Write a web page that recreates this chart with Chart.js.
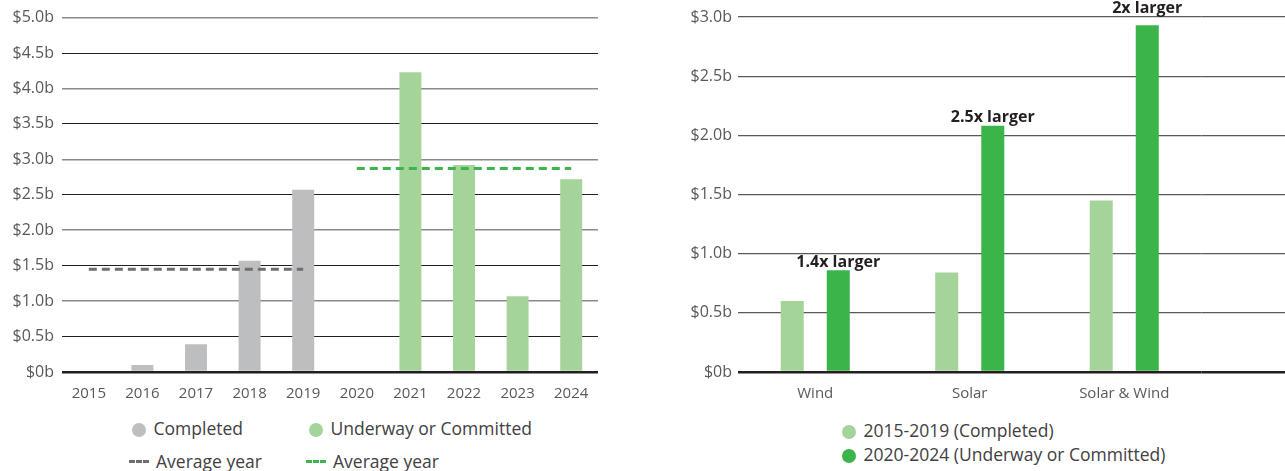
<!DOCTYPE html>
<html>
<head>
<meta charset="utf-8">
<script src="https://cdn.jsdelivr.net/npm/chart.js@4/dist/chart.umd.min.js"></script>
<style>
  body { margin: 0; background: #fff; width: 1285px; height: 471px; overflow: hidden; position: relative; font-family: "Open Sans", sans-serif; }
  #left { position: absolute; left: 0; top: 0; }
  #right { position: absolute; left: 640px; top: 0; }
  .lg { position: absolute; font-size: 17.5px; color: #414042; white-space: nowrap; line-height: 20px; }
  .dot { display: inline-block; width: 14px; height: 14px; border-radius: 50%; vertical-align: -2px; margin-right: 3px; }
  .dash { display: inline-block; width: 20px; height: 0; border-top: 3px dashed; vertical-align: 5px; margin-right: 7px; }
</style>
</head>
<body>
<canvas id="left" width="600" height="400"></canvas>
<canvas id="right" width="645" height="400"></canvas>

<div class="lg" style="left:132px; top:418px;"><span class="dot" style="background:#bcbec0"></span> Completed</div>
<div class="lg" style="left:309px; top:418px;"><span class="dot" style="background:#a5d49b"></span> Underway or Committed</div>
<div class="lg" style="left:129px; top:451px;"><span class="dash" style="border-color:#6d6e71"></span>Average year</div>
<div class="lg" style="left:306px; top:451px;"><span class="dash" style="border-color:#3cb64a"></span>Average year</div>

<div class="lg" style="left:842px; top:420px;"><span class="dot" style="background:#a5d49b"></span> 2015-2019 (Completed)</div>
<div class="lg" style="left:842px; top:444px;"><span class="dot" style="background:#3bb54a"></span> 2020-2024 (Underway or Committed)</div>

<script>
// left chart: investment per year
const years = ['2015', '2016', '2017', '2018', '2019', '2020', '2021', '2022', '2023', '2024'];
const completed = [0, 0.1, 0.39, 1.57, 2.57, null, null, null, null, null];
const underway = [null, null, null, null, null, 0, 4.23, 2.92, 1.07, 2.72];
const avgCompleted = [1.45, 1.45, 1.45, 1.45, 1.45, null, null, null, null, null];
const avgUnderway = [null, null, null, null, null, 2.87, 2.87, 2.87, 2.87, 2.87];

// right chart: by technology
const techs = ['Wind', 'Solar', 'Solar & Wind'];
const period1 = [0.6, 0.84, 1.45];
const period2 = [0.86, 2.08, 2.93];
const notes = ['1.4x larger', '2.5x larger', '2x larger'];

const yFont = { family: 'Open Sans', size: 16 };
const xFont = { family: 'Open Sans', size: 15 };
const tickColor = '#58595b';

function money(v) {
  return v === 0 ? '$0b' : '$' + v.toFixed(1) + 'b';
}

function gridColor(ctx) {
  const v = ctx.tick.value;
  if (v === 0) return '#231f20';
  return Number.isInteger(v) ? '#8a8a8c' : '#231f20';
}
function gridWidth(ctx) {
  const v = ctx.tick.value;
  if (v === 0) return 2.5;
  return Number.isInteger(v) ? 1.5 : 1;
}

new Chart(document.getElementById('left'), {
  type: 'bar',
  data: {
    labels: years,
    datasets: [
      { type: 'line', data: avgCompleted, borderColor: '#6d6e71', borderWidth: 3, borderDash: [8, 5], pointRadius: 0, order: 0 },
      { type: 'line', data: avgUnderway, borderColor: '#3cb64a', borderWidth: 3, borderDash: [8, 5], pointRadius: 0, order: 0 },
      { data: completed, backgroundColor: '#bcbec0', grouped: false, order: 1 },
      { data: underway, backgroundColor: '#a5d49b', grouped: false, order: 1 }
    ]
  },
  options: {
    responsive: false,
    animation: false,
    events: [],
    layout: { padding: { top: 16, right: 2 } },
    plugins: { legend: { display: false }, tooltip: { enabled: false } },
    datasets: { bar: { barPercentage: 0.41, categoryPercentage: 1 } },
    scales: {
      y: {
        min: 0, max: 5,
        ticks: { stepSize: 0.5, callback: money, font: yFont, color: tickColor, padding: 8 },
        grid: { color: gridColor, lineWidth: gridWidth, drawTicks: false },
        border: { display: false },
        afterFit: s => { s.width = 62; }
      },
      x: {
        ticks: { font: xFont, color: tickColor, padding: 5 },
        grid: { display: false },
        border: { display: false },
        afterFit: s => { s.height = 28; }
      }
    }
  }
});

// text above the darker bars, lifted over the top gridline when it would sit on it
const noteLabels = {
  id: 'noteLabels',
  afterDatasetsDraw(chart) {
    const c = chart.ctx;
    const bars = chart.getDatasetMeta(1).data;
    const top = chart.chartArea.top;
    c.save();
    c.font = 'bold 16px "Open Sans"';
    c.fillStyle = '#231f20';
    c.textAlign = 'center';
    c.textBaseline = 'middle';
    bars.forEach((b, i) => {
      let y = b.y - 8;
      if (y < top + 12) y = top - 9;
      c.fillText(notes[i], b.x, y);
    });
    c.restore();
  }
};

const lineColor = v => v === 0 ? '#231f20' : '#5a5a5c';
const lineWidth = v => v === 0 ? 2.5 : 1.3;

// gridlines run on past the last group to the edge
const gridRun = {
  id: 'gridRun',
  beforeDatasetsDraw(chart) {
    const c = chart.ctx;
    const y = chart.scales.y;
    c.save();
    y.ticks.forEach(t => {
      const w = lineWidth(t.value);
      const py = Chart.helpers._alignPixel(chart, y.getPixelForValue(t.value), w);
      c.strokeStyle = lineColor(t.value);
      c.lineWidth = w;
      c.beginPath();
      c.moveTo(chart.chartArea.right, py);
      c.lineTo(chart.width, py);
      c.stroke();
    });
    c.restore();
  }
};

new Chart(document.getElementById('right'), {
  type: 'bar',
  data: {
    labels: techs,
    datasets: [
      { data: period1, backgroundColor: '#a5d49b' },
      { data: period2, backgroundColor: '#3bb54a' }
    ]
  },
  options: {
    responsive: false,
    animation: false,
    events: [],
    layout: { padding: { top: 17, right: 83.5 } },
    plugins: { legend: { display: false }, tooltip: { enabled: false } },
    datasets: { bar: { barPercentage: 0.5, categoryPercentage: 0.596 } },
    scales: {
      y: {
        min: 0, max: 3,
        ticks: { stepSize: 0.5, callback: money, font: yFont, color: tickColor, padding: 6 },
        grid: {
          color: ctx => lineColor(ctx.tick.value),
          lineWidth: ctx => lineWidth(ctx.tick.value),
          drawTicks: false
        },
        border: { display: false },
        afterFit: s => { s.width = 98; }
      },
      x: {
        ticks: { font: xFont, color: tickColor, padding: 5 },
        grid: { display: false },
        border: { display: false },
        afterFit: s => { s.height = 28; }
      }
    }
  },
  plugins: [noteLabels, gridRun]
});
</script>
</body>
</html>
